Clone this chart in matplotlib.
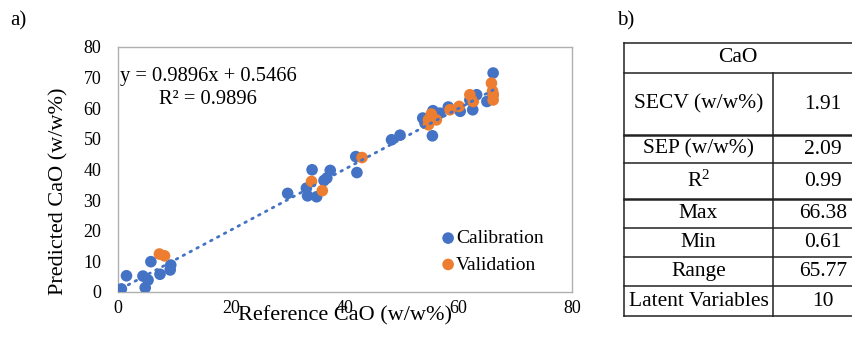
import numpy as np
import matplotlib
matplotlib.use("Agg")
import matplotlib.pyplot as plt

plt.rcParams['font.family'] = ['Liberation Serif', 'DejaVu Serif']
plt.rcParams['mathtext.fontset'] = 'custom'
plt.rcParams['mathtext.rm'] = 'Liberation Serif'
plt.rcParams['mathtext.it'] = 'Liberation Serif:italic'

# calibration set (reference, predicted)
cal_ref = [0.6, 1.5, 4.8, 4.4, 5.3, 5.8, 7.4, 9.2, 9.3, 29.9, 33.2, 33.4, 34.2, 35.0,
           36.3, 36.8, 37.4, 41.9, 42.1, 48.2, 49.7, 53.7, 54.1, 55.4, 55.5, 56.7,
           58.2, 60.3, 62.5, 62.0, 63.2, 65.0, 66.1, 66.1]
cal_pred = [1.0, 5.3, 1.4, 5.2, 3.9, 9.9, 5.8, 7.2, 8.8, 32.2, 33.9, 31.4, 39.9, 31.1,
            36.4, 37.2, 39.7, 44.2, 39.0, 49.7, 51.2, 56.8, 55.1, 51.0, 59.2, 58.4,
            60.4, 59.0, 59.5, 62.7, 64.4, 62.2, 71.5, 64.4]

# validation set
val_ref = [7.3, 8.2, 34.1, 36.0, 43.0, 54.7, 55.2, 56.1, 54.7, 58.5, 60.1, 62.0,
           62.6, 65.8, 66.0, 66.1, 66.1]
val_pred = [12.4, 11.8, 36.1, 33.1, 43.9, 54.6, 58.1, 56.2, 56.2, 59.5, 60.6, 64.4,
            62.2, 68.2, 65.6, 62.7, 64.4]

slope, intercept = 0.9896, 0.5466
r2 = 0.9896

# summary table rows
row_names = ['SECV (w/w%)', 'SEP (w/w%)', r'R$^{2}$', 'Max', 'Min', 'Range', 'Latent Variables']
row_values = ['1.91', '2.09', '0.99', '66.38', '0.61', '65.77', '10']

blue = '#4472C4'
orange = '#ED7D31'

fig = plt.figure(figsize=(8.53, 3.41), dpi=100)
ax = fig.add_axes([0.1383, 0.1437, 0.5323, 0.7185])

ax.scatter(cal_ref, cal_pred, s=70, color=blue, edgecolors='none', zorder=3, label='Calibration')
ax.scatter(val_ref, val_pred, s=70, color=orange, edgecolors='none', zorder=4, label='Validation')

xs = np.array([min(cal_ref), max(cal_ref)])
ax.plot(xs, slope * xs + intercept, color=blue, lw=2, ls=(0, (0.6, 2.2)),
        dash_capstyle='round', zorder=5)

ax.set_xlim(0, 80)
ax.set_ylim(0, 80)
ax.set_xticks(range(0, 81, 20))
ax.set_yticks(range(0, 81, 10))
ax.tick_params(length=0, labelsize=13)
ax.tick_params(axis='y', pad=12)
ax.tick_params(axis='x', pad=6)
for s in ax.spines.values():
    s.set_color('#b0b0b0')
    s.set_linewidth(1)

ax.set_xlabel('Reference CaO (w/w%)', fontsize=16, labelpad=-8)
ax.set_ylabel('Predicted CaO (w/w%)', fontsize=16)
ax.yaxis.set_label_coords(-0.109, 0.41)

ax.text(0.005, 0.88, 'y = 0.9896x + 0.5466', transform=ax.transAxes, fontsize=14.8,
        va='center', ha='left')
ax.text(0.09, 0.787, 'R² = %.4f' % r2, transform=ax.transAxes, fontsize=14.8,
        va='center', ha='left')

leg = ax.legend(loc='center left', bbox_to_anchor=(0.68, 0.165), frameon=False,
                fontsize=14, handletextpad=-0.2, labelspacing=0.45, borderpad=0.0,
                handlelength=1.2, scatterpoints=1)

fig.text(10 / 853, 1 - 21 / 341, 'a)', fontsize=15, va='center', ha='left')
fig.text(617 / 853, 1 - 21 / 341, 'b)', fontsize=15, va='center', ha='left')

# table drawn in pixel coordinates
tb = fig.add_axes([0, 0, 1, 1])
tb.set_xlim(0, 853)
tb.set_ylim(341, 0)
tb.axis('off')
tb.patch.set_visible(False)

left, mid, right = 624, 773, 860
row_edges = [42.7, 73.3, 135, 163.3, 199.3, 228.3, 257.3, 286, 316]
thick = {2, 4}
for i, y in enumerate(row_edges):
    tb.plot([left, right], [y, y], color='#222222', lw=1.8 if i in thick else 1.1)
tb.plot([left, left], [row_edges[0], row_edges[-1]], color='#222222', lw=1.1)
tb.plot([mid, mid], [row_edges[1], row_edges[-1]], color='#222222', lw=1.1)

tb.text(738, (row_edges[0] + row_edges[1]) / 2, 'CaO', fontsize=15.5, ha='center', va='center')
for i, (name, val) in enumerate(zip(row_names, row_values)):
    yc = (row_edges[i + 1] + row_edges[i + 2]) / 2
    tb.text((left + mid) / 2, yc, name, fontsize=15.5, ha='center', va='center')
    tb.text(823, yc, val, fontsize=15.5, ha='center', va='center')

fig.savefig('out.png', dpi=100)
